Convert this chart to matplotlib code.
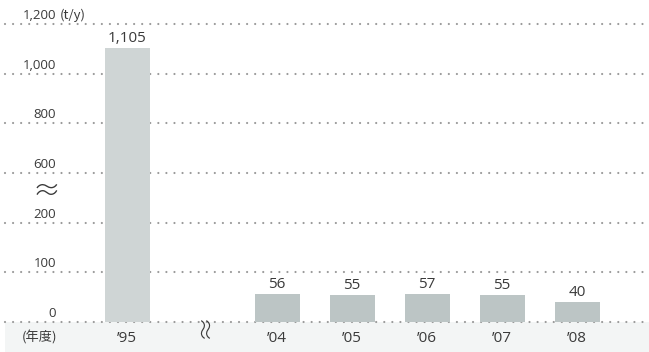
import numpy as np
import matplotlib
matplotlib.use("Agg")
import matplotlib.pyplot as plt
import matplotlib.transforms as mtransforms

plt.rcParams['font.family'] = ['Open Sans', 'Noto Sans CJK JP', 'DejaVu Sans']
plt.rcParams['lines.scale_dashes'] = False

# Data
years = ["'95", "'04", "'05", "'06", "'07", "'08"]
positions = [0, 2, 3, 4, 5, 6]
values = [1105, 56, 55, 57, 55, 40]
ytick_values = [0, 100, 200, 600, 800, 1000, 1200]
ytick_labels = ["0", "100", "200", "600", "800", "1,000", "1,200"]

# Broken (piecewise) value axis: each tick step gets equal height
tick_pos = np.arange(len(ytick_values), dtype=float)
def fwd(v):
    return np.interp(v, ytick_values, tick_pos)
def inv(p):
    return np.interp(p, tick_pos, ytick_values)

W, H = 649, 352
fig = plt.figure(figsize=(W / 100, H / 100), dpi=100)

# Bottom band behind everything
fig.patches.append(plt.Rectangle((5 / W, 0), 1, 30 / H, transform=fig.transFigure,
                                 facecolor='#f3f5f5', edgecolor='none', zorder=-5))

ax = fig.add_axes([5 / W, 30 / H, 644 / W, 298 / H])
ax.set_yscale('function', functions=(fwd, inv))
ax.set_ylim(0, 1200)
ax.set_xlim(-1.627, 6.96)
ax.axis('off')

text_col = '#3a3a3a'

# Dotted grid lines
for v in ytick_values:
    ax.axhline(v, color='#9a9a9a', linewidth=1.6, linestyle=(0, (0.01, 5.8)),
               dash_capstyle='round', zorder=1, clip_on=False)

# Bars
colors = ['#cfd5d5'] + ['#bcc5c5'] * (len(values) - 1)
bars = ax.bar(positions, values, width=0.6, color=colors, zorder=2)

# Value labels
for x, v in zip(positions, values):
    tr = mtransforms.offset_copy(ax.transData, fig=fig, x=0, y=6, units='dots')
    ax.text(x, v, f"{v:,}", transform=tr, ha='center', va='baseline',
            fontsize=11, color=text_col)

# Y tick labels
ylab_tr = mtransforms.blended_transform_factory(fig.transFigure, ax.transData)
for v, lab in zip(ytick_values, ytick_labels):
    tr = mtransforms.offset_copy(ylab_tr, fig=fig, x=0, y=5, units='dots')
    ax.text(56 / W, v, lab, transform=tr, ha='right', va='baseline',
            fontsize=9.5, color=text_col)
tr = mtransforms.offset_copy(ylab_tr, fig=fig, x=0, y=5, units='dots')
ax.text(60 / W, 1200, "(t/y)", transform=tr, ha='left', va='baseline',
        fontsize=9.5, color=text_col, family=['Noto Sans CJK JP'])

# Axis break marks
fig.text(46 / W, 1 - 192 / H, "≈", ha='center', va='center', fontsize=20,
         color=text_col, family=['Noto Sans CJK JP'], fontweight='light')
xb_tr = mtransforms.blended_transform_factory(ax.transData, fig.transFigure)
ax.text(1.04, 1 - 325 / H, "≈", transform=xb_tr, ha='center', va='center',
        fontsize=18, rotation=90, color=text_col, family=['Noto Sans CJK JP'],
        fontweight='light')

# Category labels
for x, lab in zip(positions, years):
    ax.text(x, 1 - 339 / H, lab.replace("'", "’"), transform=xb_tr, ha='center',
            va='center', fontsize=11, color=text_col)
fig.text(57 / W, 1 - 338 / H, "(年度)", ha='right', va='center', fontsize=9.5,
         color=text_col, family=['Noto Sans CJK JP'])

fig.savefig("out.png", dpi=100)
